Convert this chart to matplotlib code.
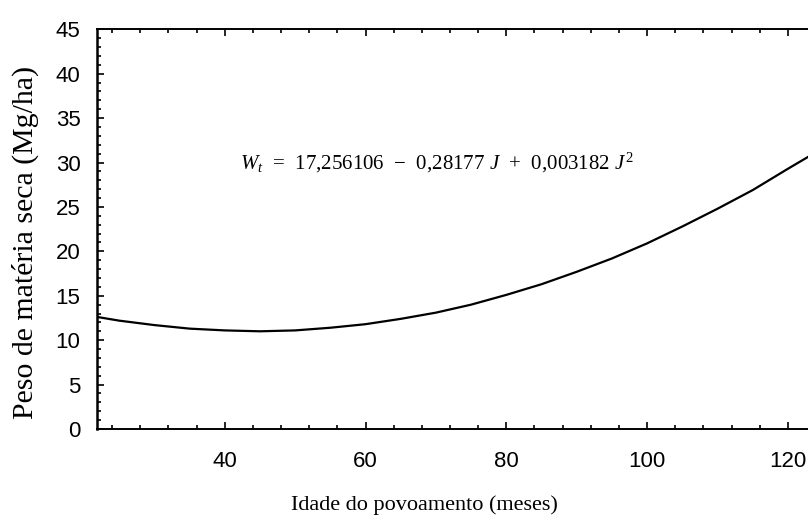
import numpy as np
import matplotlib
matplotlib.use("Agg")
import matplotlib.pyplot as plt
from matplotlib.ticker import MultipleLocator

# Curva ajustada: idade (meses) x peso de materia seca (Mg/ha)
idade = [22, 25, 30, 35, 40, 45, 50, 55, 60, 65, 70, 75, 80, 85, 90,
         95, 100, 105, 110, 115, 120, 123]
peso = [12.6, 12.2, 11.7, 11.3, 11.1, 11.0, 11.1, 11.4, 11.8, 12.4, 13.1,
        14.0, 15.1, 16.3, 17.7, 19.2, 20.9, 22.8, 24.8, 26.9, 29.3, 30.7]

x_ticks = [40, 60, 80, 100, 120]
y_ticks = [0, 5, 10, 15, 20, 25, 30, 35, 40, 45]

equacao = r"$W_t$  =  17,256106  $-$  0,28177 $J$  +  0,003182 $J^2$"

plt.rcParams["mathtext.fontset"] = "custom"
plt.rcParams["mathtext.rm"] = "Liberation Serif"
plt.rcParams["mathtext.it"] = "Liberation Serif:italic"

fig = plt.figure(figsize=(8.08, 5.31), dpi=100)
ax = fig.add_axes([0.1204, 0.1921, 0.8796, 0.7527])

ax.plot(idade, peso, color="black", lw=1.6)

ax.set_xlim(21.9, 122.85)
ax.set_ylim(0, 45)
ax.set_xticks(x_ticks)
ax.set_yticks(y_ticks)
ax.xaxis.set_minor_locator(MultipleLocator(4))
ax.yaxis.set_minor_locator(MultipleLocator(1))

ax.tick_params(which="both", direction="in", top=True, right=False, width=1.2)
ax.tick_params(which="major", length=5)
ax.tick_params(which="minor", length=3)
ax.tick_params(axis="y", which="major", pad=12, labelsize=16)
ax.tick_params(axis="x", which="major", pad=16, labelsize=16)
for lab in ax.get_xticklabels() + ax.get_yticklabels():
    lab.set_fontfamily("Liberation Sans")

ax.spines["right"].set_visible(False)
ax.spines["left"].set_linewidth(1.8)
ax.spines["bottom"].set_linewidth(1.4)
ax.spines["top"].set_linewidth(1.4)

fig.text(0.031, 0.544, "Peso de matéria seca (Mg/ha)", rotation=90,
         ha="center", va="center", fontsize=21.5, family="Liberation Serif")
fig.text(0.525, 0.049, "Idade do povoamento (meses)", ha="center",
         va="center", fontsize=16, family="Liberation Serif")

ax.text(0.2007, 0.665, equacao, transform=ax.transAxes, fontsize=15,
        family="Liberation Serif", va="center", ha="left")

fig.savefig("out.png", dpi=100)
